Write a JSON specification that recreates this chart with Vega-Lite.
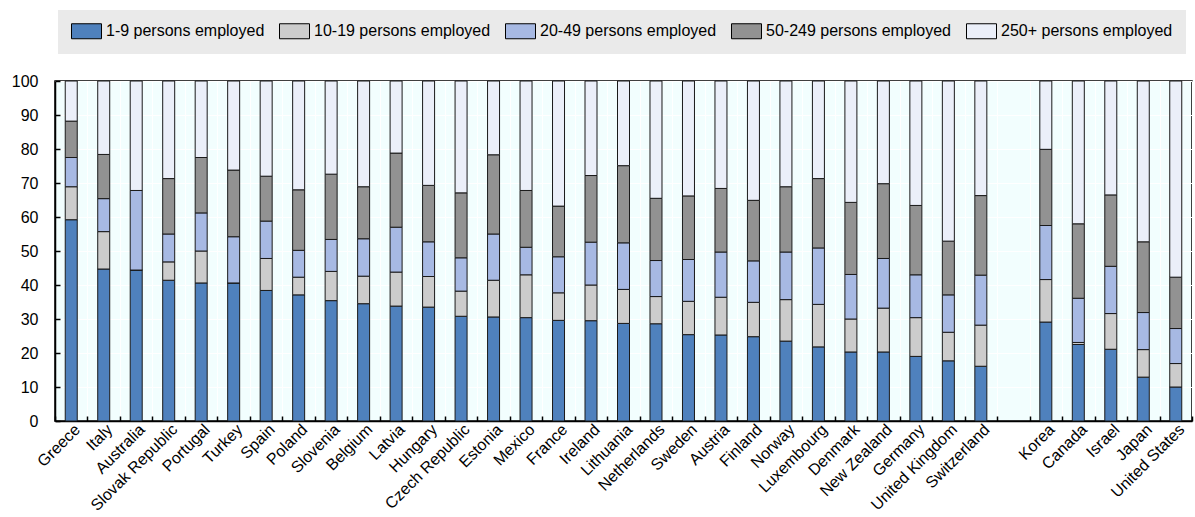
{
  "$schema": "https://vega.github.io/schema/vega-lite/v6.json",
  "width": 1137,
  "height": 340,
  "autosize": {"type": "none"},
  "padding": {"left": 55, "top": 81, "right": 3, "bottom": 96},
  "background": "white",
  "config": {
    "view": {"fill": "#F2FEFE", "stroke": "#000", "strokeWidth": 1.5},
    "font": "Liberation Sans"
  },
  "data": {
    "values": [
      {"country": "Greece", "1-9 persons employed": 59.2, "10-19 persons employed": 9.7, "20-49 persons employed": 8.6, "50-249 persons employed": 10.7, "250+ persons employed": 11.8},
      {"country": "Italy", "1-9 persons employed": 44.7, "10-19 persons employed": 11.0, "20-49 persons employed": 9.7, "50-249 persons employed": 13.0, "250+ persons employed": 21.6},
      {"country": "Australia", "1-9 persons employed": 44.4, "10-19 persons employed": 0, "20-49 persons employed": 23.4, "50-249 persons employed": 0, "250+ persons employed": 32.2},
      {"country": "Slovak Republic", "1-9 persons employed": 41.4, "10-19 persons employed": 5.4, "20-49 persons employed": 8.2, "50-249 persons employed": 16.3, "250+ persons employed": 28.7},
      {"country": "Portugal", "1-9 persons employed": 40.6, "10-19 persons employed": 9.4, "20-49 persons employed": 11.2, "50-249 persons employed": 16.3, "250+ persons employed": 22.5},
      {"country": "Turkey", "1-9 persons employed": 40.6, "10-19 persons employed": 0, "20-49 persons employed": 13.6, "50-249 persons employed": 19.6, "250+ persons employed": 26.2},
      {"country": "Spain", "1-9 persons employed": 38.4, "10-19 persons employed": 9.4, "20-49 persons employed": 11.0, "50-249 persons employed": 13.2, "250+ persons employed": 28.0},
      {"country": "Poland", "1-9 persons employed": 37.1, "10-19 persons employed": 5.2, "20-49 persons employed": 7.9, "50-249 persons employed": 17.8, "250+ persons employed": 32.0},
      {"country": "Slovenia", "1-9 persons employed": 35.4, "10-19 persons employed": 8.6, "20-49 persons employed": 9.4, "50-249 persons employed": 19.2, "250+ persons employed": 27.4},
      {"country": "Belgium", "1-9 persons employed": 34.5, "10-19 persons employed": 8.1, "20-49 persons employed": 11.0, "50-249 persons employed": 15.3, "250+ persons employed": 31.1},
      {"country": "Latvia", "1-9 persons employed": 33.8, "10-19 persons employed": 10.0, "20-49 persons employed": 13.2, "50-249 persons employed": 21.8, "250+ persons employed": 21.2},
      {"country": "Hungary", "1-9 persons employed": 33.5, "10-19 persons employed": 9.0, "20-49 persons employed": 10.2, "50-249 persons employed": 16.6, "250+ persons employed": 30.7},
      {"country": "Czech Republic", "1-9 persons employed": 30.8, "10-19 persons employed": 7.4, "20-49 persons employed": 9.8, "50-249 persons employed": 19.1, "250+ persons employed": 32.9},
      {"country": "Estonia", "1-9 persons employed": 30.6, "10-19 persons employed": 10.8, "20-49 persons employed": 13.6, "50-249 persons employed": 23.3, "250+ persons employed": 21.7},
      {"country": "Mexico", "1-9 persons employed": 30.4, "10-19 persons employed": 12.6, "20-49 persons employed": 8.1, "50-249 persons employed": 16.7, "250+ persons employed": 32.2},
      {"country": "France", "1-9 persons employed": 29.6, "10-19 persons employed": 8.1, "20-49 persons employed": 10.6, "50-249 persons employed": 14.9, "250+ persons employed": 36.8},
      {"country": "Ireland", "1-9 persons employed": 29.5, "10-19 persons employed": 10.5, "20-49 persons employed": 12.6, "50-249 persons employed": 19.6, "250+ persons employed": 27.8},
      {"country": "Lithuania", "1-9 persons employed": 28.7, "10-19 persons employed": 10.0, "20-49 persons employed": 13.7, "50-249 persons employed": 22.7, "250+ persons employed": 24.9},
      {"country": "Netherlands", "1-9 persons employed": 28.6, "10-19 persons employed": 8.0, "20-49 persons employed": 10.6, "50-249 persons employed": 18.3, "250+ persons employed": 34.5},
      {"country": "Sweden", "1-9 persons employed": 25.4, "10-19 persons employed": 9.8, "20-49 persons employed": 12.3, "50-249 persons employed": 18.7, "250+ persons employed": 33.8},
      {"country": "Austria", "1-9 persons employed": 25.3, "10-19 persons employed": 11.1, "20-49 persons employed": 13.3, "50-249 persons employed": 18.7, "250+ persons employed": 31.6},
      {"country": "Finland", "1-9 persons employed": 24.8, "10-19 persons employed": 10.1, "20-49 persons employed": 12.2, "50-249 persons employed": 17.8, "250+ persons employed": 35.1},
      {"country": "Norway", "1-9 persons employed": 23.5, "10-19 persons employed": 12.2, "20-49 persons employed": 14.0, "50-249 persons employed": 19.2, "250+ persons employed": 31.1},
      {"country": "Luxembourg", "1-9 persons employed": 21.8, "10-19 persons employed": 12.5, "20-49 persons employed": 16.6, "50-249 persons employed": 20.4, "250+ persons employed": 28.7},
      {"country": "Denmark", "1-9 persons employed": 20.3, "10-19 persons employed": 9.7, "20-49 persons employed": 13.1, "50-249 persons employed": 21.2, "250+ persons employed": 35.7},
      {"country": "New Zealand", "1-9 persons employed": 20.3, "10-19 persons employed": 12.9, "20-49 persons employed": 14.6, "50-249 persons employed": 22.0, "250+ persons employed": 30.2},
      {"country": "Germany", "1-9 persons employed": 19.0, "10-19 persons employed": 11.4, "20-49 persons employed": 12.6, "50-249 persons employed": 20.4, "250+ persons employed": 36.6},
      {"country": "United Kingdom", "1-9 persons employed": 17.7, "10-19 persons employed": 8.4, "20-49 persons employed": 11.0, "50-249 persons employed": 15.8, "250+ persons employed": 47.1},
      {"country": "Switzerland", "1-9 persons employed": 16.1, "10-19 persons employed": 12.1, "20-49 persons employed": 14.7, "50-249 persons employed": 23.4, "250+ persons employed": 33.7},
      {"country": "Korea", "1-9 persons employed": 29.1, "10-19 persons employed": 12.5, "20-49 persons employed": 15.9, "50-249 persons employed": 22.4, "250+ persons employed": 20.1},
      {"country": "Canada", "1-9 persons employed": 22.5, "10-19 persons employed": 0.6, "20-49 persons employed": 13.0, "50-249 persons employed": 21.9, "250+ persons employed": 42.0},
      {"country": "Israel", "1-9 persons employed": 21.1, "10-19 persons employed": 10.5, "20-49 persons employed": 13.9, "50-249 persons employed": 21.0, "250+ persons employed": 33.5},
      {"country": "Japan", "1-9 persons employed": 12.9, "10-19 persons employed": 8.1, "20-49 persons employed": 10.9, "50-249 persons employed": 20.8, "250+ persons employed": 47.3},
      {"country": "United States", "1-9 persons employed": 10.0, "10-19 persons employed": 6.9, "20-49 persons employed": 10.3, "50-249 persons employed": 15.1, "250+ persons employed": 57.7}
    ]
  },
  "transform": [
    {"fold": ["1-9 persons employed", "10-19 persons employed", "20-49 persons employed", "50-249 persons employed", "250+ persons employed"], "as": ["size", "value"]},
    {"window": [{"op": "row_number", "as": "k"}], "groupby": ["country"]}
  ],
  "mark": {"type": "bar", "size": 12, "stroke": "#1a1a1a", "strokeWidth": 1},
  "encoding": {
    "x": {
      "field": "country",
      "type": "nominal",
      "scale": {
        "domain": ["Greece", "Italy", "Australia", "Slovak Republic", "Portugal", "Turkey", "Spain", "Poland", "Slovenia", "Belgium", "Latvia", "Hungary", "Czech Republic", "Estonia", "Mexico", "France", "Ireland", "Lithuania", "Netherlands", "Sweden", "Austria", "Finland", "Norway", "Luxembourg", "Denmark", "New Zealand", "Germany", "United Kingdom", "Switzerland", " ", "Korea", "Canada", "Israel", "Japan", "United States"],
        "paddingInner": 0,
        "paddingOuter": 0
      },
      "axis": {
        "title": null,
        "labelAngle": -45,
        "labelFontSize": 16,
        "labelColor": "#000",
        "labelPadding": 5,
        "tickBand": "extent",
        "tickSize": -5,
        "tickColor": "#000",
        "tickWidth": 1.5,
        "domainColor": "#000",
        "domainWidth": 1.5,
        "grid": true,
        "gridColor": "#FFFFFF",
        "gridWidth": 1
      }
    },
    "y": {
      "field": "value",
      "type": "quantitative",
      "stack": "zero",
      "scale": {"domain": [0, 100], "nice": false},
      "axis": {
        "title": null,
        "values": [0, 10, 20, 30, 40, 50, 60, 70, 80, 90, 100],
        "labelFontSize": 16,
        "labelColor": "#000",
        "labelPadding": 22,
        "tickSize": -5,
        "tickColor": "#000",
        "tickWidth": 1.5,
        "domainColor": "#000",
        "domainWidth": 1.5,
        "grid": true,
        "gridColor": "#FFFFFF",
        "gridWidth": 1
      }
    },
    "order": {"field": "k", "type": "quantitative", "sort": "ascending"},
    "color": {
      "field": "size",
      "type": "nominal",
      "scale": {
        "domain": ["1-9 persons employed", "10-19 persons employed", "20-49 persons employed", "50-249 persons employed", "250+ persons employed"],
        "range": ["#4F81BD", "#CCCCCC", "#A7B9E3", "#929292", "#EBEFF9"]
      },
      "legend": {
        "title": null,
        "orient": "none",
        "legendX": 3,
        "legendY": -71,
        "direction": "horizontal",
        "columns": 5,
        "fillColor": "#EAEAEA",
        "padding": 13,
        "symbolType": "M-1,-1H3V1H-1Z",
        "symbolSize": 225,
        "symbolStrokeColor": "#000",
        "symbolStrokeWidth": 1,
        "symbolOpacity": 1,
        "labelFontSize": 16,
        "labelColor": "#000",
        "labelOffset": 19,
        "columnPadding": 12,
        "labelLimit": 300
      }
    }
  }
}
